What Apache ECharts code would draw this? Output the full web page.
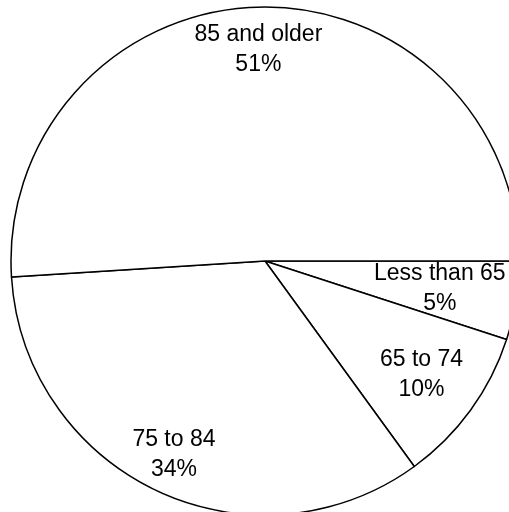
<!DOCTYPE html>
<html>
<head>
<meta charset="utf-8">
<style>
  html, body { margin: 0; padding: 0; background: #ffffff; }
  #chart { width: 509px; height: 512px; }
</style>
<script src="https://cdn.jsdelivr.net/npm/echarts@6/dist/echarts.min.js"></script>
</head>
<body>
<div id="chart"></div>
<script>
// Age groups and their share (%)
const categories = ['Less than 65', '65 to 74', '75 to 84', '85 and older'];
const shares = [5, 10, 34, 51];

// Label distance from the centre, as a fraction of the radius
const labelRadius = [0.685, 0.75, 0.83, 0.82];

const center = [265, 261];
const R = 254;

const total = shares.reduce((a, b) => a + b, 0);
let acc = 0;
const data = categories.map((name, i) => {
  const mid = (acc + shares[i] / 2) / total * 2 * Math.PI; // clockwise from 3 o'clock
  acc += shares[i];
  const shift = labelRadius[i] * R - R / 2; // 'inside' labels sit at R/2 by default
  return {
    name: name,
    value: shares[i],
    label: { offset: [shift * Math.cos(mid), shift * Math.sin(mid)] }
  };
});

const chart = echarts.init(document.getElementById('chart'), null, { renderer: 'canvas' });
chart.setOption({
  animation: false,
  backgroundColor: '#ffffff',
  series: [{
    type: 'pie',
    center: center,
    radius: [0, R],
    startAngle: 0,
    clockwise: true,
    silent: true,
    data: data,
    itemStyle: { color: '#ffffff', borderColor: '#000000', borderWidth: 1.5 },
    label: {
      show: true,
      position: 'inside',
      formatter: '{b}\n{c}%',
      fontFamily: 'Liberation Sans, Arial, sans-serif',
      fontSize: 23,
      lineHeight: 30,
      color: '#000000',
      align: 'center'
    },
    labelLine: { show: false },
    emphasis: { disabled: true }
  }]
});
</script>
</body>
</html>
